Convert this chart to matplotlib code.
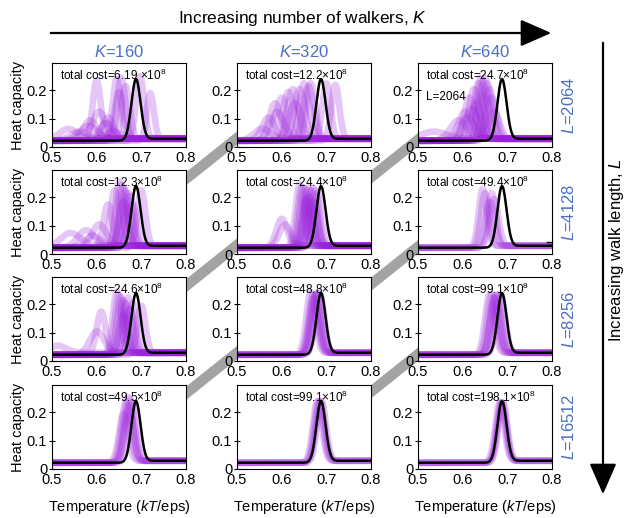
import numpy as np
import matplotlib
matplotlib.use("Agg")
import matplotlib.pyplot as plt
from matplotlib.patches import FancyArrowPatch
from matplotlib.lines import Line2D

plt.rcParams['font.family'] = ['Liberation Sans', 'DejaVu Sans']
plt.rcParams['mathtext.fontset'] = 'custom'
plt.rcParams['mathtext.rm'] = 'Liberation Sans'
plt.rcParams['mathtext.it'] = 'Liberation Sans:italic'

# ---------------- data ----------------
walkers = [160, 320, 640]
walk_lengths = [2064, 4128, 8256, 16512]
cost_labels = [["6.19 ", "12.2", "24.7"],
               ["12.3", "24.4", "49.4"],
               ["24.6", "48.8", "99.1"],
               ["49.5", "99.1", "198.1"]]
x_ticks = [0.5, 0.6, 0.7, 0.8]
y_ticks = [0, 0.1, 0.2]

# reference (black) curve: peak temperature, peak height, width
ref_center, ref_height, ref_width = 0.688, 0.235, 0.0102
base_left, base_right = 0.022, 0.029

# purple curves per panel: peak centres, heights, widths
p00_c = [0.535, 0.56, 0.585, 0.600, 0.605, 0.620, 0.635, 0.645, 0.650, 0.655, 0.665, 0.697, 0.720, 0.580, 0.625]
p00_h = [0.060, 0.050, 0.090, 0.230, 0.120, 0.080, 0.050, 0.235, 0.190, 0.240, 0.210, 0.245, 0.185, 0.070, 0.100]
p00_w = [0.020, 0.020, 0.015, 0.009, 0.015, 0.015, 0.020, 0.009, 0.010, 0.009, 0.009, 0.009, 0.008, 0.020, 0.012]

p01_c = [0.555, 0.570, 0.585, 0.590, 0.600, 0.615, 0.625, 0.630, 0.640, 0.650, 0.660, 0.665, 0.700, 0.720]
p01_h = [0.060, 0.100, 0.150, 0.120, 0.170, 0.190, 0.200, 0.150, 0.200, 0.220, 0.210, 0.220, 0.220, 0.215]
p01_w = [0.018, 0.014, 0.013, 0.015, 0.013, 0.012, 0.012, 0.014, 0.012, 0.011, 0.011, 0.010, 0.009, 0.009]

p02_c = [0.530, 0.590, 0.605, 0.610, 0.615, 0.620, 0.625, 0.630, 0.635, 0.640, 0.645, 0.650, 0.655, 0.660, 0.665, 0.670]
p02_h = [0.050, 0.090, 0.120, 0.100, 0.170, 0.130, 0.200, 0.150, 0.220, 0.240, 0.230, 0.240, 0.220, 0.200, 0.170, 0.120]
p02_w = [0.030, 0.018, 0.015, 0.016, 0.012, 0.014, 0.011, 0.013, 0.010, 0.009, 0.010, 0.009, 0.010, 0.010, 0.011, 0.012]

p10_c = [0.540, 0.575, 0.590, 0.605, 0.625, 0.640, 0.650, 0.655, 0.660, 0.660, 0.665, 0.670, 0.675, 0.680, 0.700]
p10_h = [0.070, 0.080, 0.060, 0.100, 0.170, 0.220, 0.250, 0.240, 0.230, 0.180, 0.220, 0.210, 0.200, 0.170, 0.220]
p10_w = [0.022, 0.018, 0.018, 0.016, 0.010, 0.009, 0.008, 0.009, 0.009, 0.010, 0.009, 0.009, 0.009, 0.010, 0.009]

p11_c = [0.600, 0.607, 0.640, 0.645, 0.650, 0.655, 0.655, 0.660, 0.660, 0.665, 0.670, 0.670, 0.675, 0.680]
p11_h = [0.120, 0.100, 0.240, 0.230, 0.230, 0.220, 0.190, 0.230, 0.200, 0.220, 0.230, 0.180, 0.220, 0.210]
p11_w = [0.012, 0.013, 0.009, 0.009, 0.009, 0.009, 0.010, 0.009, 0.010, 0.009, 0.009, 0.010, 0.009, 0.009]

p12_c = [0.645, 0.650, 0.660, 0.665, 0.670]
p12_h = [0.225, 0.210, 0.180, 0.210, 0.190]
p12_w = [0.009, 0.009, 0.010, 0.009, 0.010]

p20_c = [0.510, 0.600, 0.610, 0.645, 0.650, 0.655, 0.660, 0.660, 0.665, 0.670, 0.675, 0.680, 0.700]
p20_h = [0.050, 0.100, 0.170, 0.240, 0.230, 0.220, 0.210, 0.160, 0.200, 0.220, 0.180, 0.200, 0.190]
p20_w = [0.020, 0.016, 0.010, 0.009, 0.009, 0.009, 0.009, 0.010, 0.009, 0.009, 0.010, 0.009, 0.009]

p21_c = [0.665, 0.670, 0.672, 0.675, 0.678, 0.680, 0.685]
p21_h = [0.240, 0.230, 0.220, 0.230, 0.230, 0.235, 0.235]
p21_w = [0.010, 0.010, 0.010, 0.010, 0.010, 0.010, 0.010]

p22_c = [0.660, 0.665, 0.670, 0.672, 0.675, 0.680, 0.685]
p22_h = [0.230, 0.230, 0.220, 0.220, 0.230, 0.230, 0.230]
p22_w = [0.010, 0.010, 0.010, 0.010, 0.010, 0.010, 0.010]

p30_c = [0.660, 0.665, 0.670, 0.672, 0.675, 0.680]
p30_h = [0.190, 0.230, 0.250, 0.220, 0.240, 0.230]
p30_w = [0.010, 0.010, 0.010, 0.010, 0.010, 0.010]

p31_c = [0.680, 0.683, 0.686, 0.689]
p31_h = [0.235, 0.235, 0.235, 0.235]
p31_w = [0.010, 0.010, 0.010, 0.010]

p32_c = [0.683, 0.686, 0.688, 0.690]
p32_h = [0.230, 0.230, 0.230, 0.230]
p32_w = [0.010, 0.010, 0.010, 0.010]

panels = [[(p00_c, p00_h, p00_w), (p01_c, p01_h, p01_w), (p02_c, p02_h, p02_w)],
          [(p10_c, p10_h, p10_w), (p11_c, p11_h, p11_w), (p12_c, p12_h, p12_w)],
          [(p20_c, p20_h, p20_w), (p21_c, p21_h, p21_w), (p22_c, p22_h, p22_w)],
          [(p30_c, p30_h, p30_w), (p31_c, p31_h, p31_w), (p32_c, p32_h, p32_w)]]

# ---------------- helpers ----------------
T = np.linspace(0.5, 0.8, 600)


def peak(c, h, w):
    base = base_left + (base_right - base_left) / (1 + np.exp(-(T - c) / 0.01))
    return base + (h - base_left) * np.exp(-0.5 * ((T - c) / w) ** 2)


# ---------------- layout ----------------
W, H = 626, 518
fig = plt.figure(figsize=(W / 100, H / 100), dpi=100)
lefts_px = [52, 237, 418]
tops_px = [63, 170, 277, 385]
w_px, h_px = 134, 84

blue = '#4a6fc4'
purple = '#9a1fdc'

axes = [[None] * 3 for _ in range(4)]
for r in range(4):
    for c in range(3):
        rect = [lefts_px[c] / W, 1 - (tops_px[r] + h_px) / H, w_px / W, h_px / H]
        ax = fig.add_axes(rect, zorder=2)
        axes[r][c] = ax

# gray bands across the gaps between equal-cost panels (behind axes)
slope, half = 0.8, 40
for r in range(3):
    for c in range(2):
        gx = (lefts_px[c] + w_px + lefts_px[c + 1]) / 2
        gy = (tops_px[r] + h_px + tops_px[r + 1]) / 2
        xs = [gx - half, gx + half]
        ys = [gy + slope * half, gy - slope * half]
        fig.add_artist(Line2D([x / W for x in xs], [1 - y / H for y in ys],
                              transform=fig.transFigure, color='#a3a3a3', lw=7.5,
                              solid_capstyle='butt', zorder=0))

for r in range(4):
    for c in range(3):
        ax = axes[r][c]
        cs, hs, ws = panels[r][c]
        for cc, hh, ww in zip(cs, hs, ws):
            ax.plot(T, peak(cc, hh, ww), color=purple, alpha=0.25, lw=4.8,
                    solid_capstyle='butt')
        ax.plot(T, peak(ref_center, ref_height, ref_width), color='black', lw=1.8)
        ax.set_xlim(0.5, 0.8)
        ax.set_ylim(0, 0.295)
        ax.set_xticks(x_ticks)
        ax.set_xticklabels([str(v) for v in x_ticks])
        ax.set_yticks(y_ticks)
        ax.set_yticklabels(['0', '0.1', '0.2'])
        ax.tick_params(axis='x', direction='in', length=0, labelsize=10.5, pad=3)
        ax.tick_params(axis='y', direction='inout', length=5, labelsize=10.5, pad=1)
        for s in ax.spines.values():
            s.set_linewidth(0.8)
        ax.text(0.06, 0.94, f"total cost={cost_labels[r][c]}×10$^{{8}}$", transform=ax.transAxes,
                fontsize=8.5, va='top', ha='left')
        if c == 0:
            ax.set_ylabel('Heat capacity', fontsize=10.5, labelpad=1)
        if r == 3:
            ax.set_xlabel('Temperature ($\\mathit{kT}$/eps)', fontsize=10.5, labelpad=8)

axes[0][2].text(0.06, 0.6, 'L=2064', transform=axes[0][2].transAxes, fontsize=8.5,
                va='center', ha='left')
axes[1][2].plot([0.788, 0.8], [0.042, 0.042], color='black', lw=1.0, clip_on=False)

# column headers
for c, k in enumerate(walkers):
    x = (lefts_px[c] + w_px / 2) / W
    fig.text(x, 1 - 52 / H, f"$\\mathit{{K}}$={k}", color=blue, fontsize=12,
             ha='center', va='center')

# row labels
for r, L in enumerate(walk_lengths):
    y = 1 - (tops_px[r] + h_px / 2) / H
    fig.text(569 / W, y, f"$\\mathit{{L}}$={L}", color=blue, fontsize=12,
             ha='center', va='center', rotation=90)

# top arrow
fig.add_artist(FancyArrowPatch((48 / W, 1 - 33 / H), (554 / W, 1 - 33 / H),
                               transform=fig.transFigure, arrowstyle='-|>,head_length=8,head_width=3.5',
                               mutation_scale=2.4, color='black', lw=1.6))
fig.text(303 / W, 1 - 19 / H, 'Increasing number of walkers, $\\mathit{K}$', fontsize=12.4,
         ha='center', va='center')

# right arrow
fig.add_artist(FancyArrowPatch((603 / W, 1 - 40 / H), (603 / W, 1 - 497 / H),
                               transform=fig.transFigure, arrowstyle='-|>,head_length=8,head_width=3.5',
                               mutation_scale=2.4, color='black', lw=1.6))
fig.text(617 / W, 1 - 250 / H, 'Increasing walk length, $\\mathit{L}$', fontsize=12,
         ha='center', va='center', rotation=90)

fig.savefig('out.png', dpi=100, facecolor='white')
